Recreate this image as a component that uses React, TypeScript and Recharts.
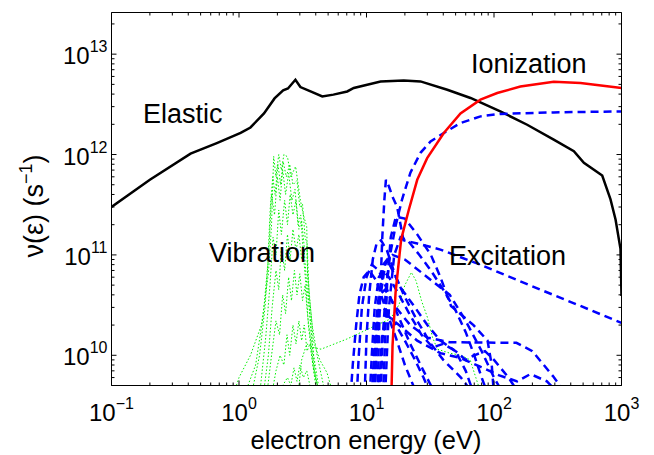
import React from 'react';
import { LineChart, Line, XAxis, YAxis } from 'recharts';

type Pt = [number, number];

// ---------- axis ticks ----------
const xTicks = [0.1, 0.2, 0.3, 0.4, 0.5, 0.6, 0.7, 0.8, 0.9, 1, 2, 3, 4, 5, 6, 7, 8, 9, 10, 20, 30, 40, 50, 60, 70, 80, 90, 100, 200, 300, 400, 500, 600, 700, 800, 900, 1000];
const xMajor = [0.1, 1, 10, 100, 1000];
const xMajorLabels = ['\u22121', '0', '1', '2', '3'];
const yTicks = [5e9, 6e9, 7e9, 8e9, 9e9, 1e10, 2e10, 3e10, 4e10, 5e10, 6e10, 7e10, 8e10, 9e10, 1e11, 2e11, 3e11, 4e11, 5e11, 6e11, 7e11, 8e11, 9e11, 1e12, 2e12, 3e12, 4e12, 5e12, 6e12, 7e12, 8e12, 9e12, 1e13, 2e13];
const yMajor = [1e10, 1e11, 1e12, 1e13];
const yMajorLabels = ['10', '11', '12', '13'];
const xDomain = [0.1, 1000];
const yDomain = [5e9, 2.6e13];

// ---------- series (energy eV, collision frequency s^-1) ----------
const elastic: Pt[] = [[0.1, 3.0e11], [0.2, 5.6e11], [0.417, 1.02e12], [0.67, 1.3e12], [1.03, 1.64e12], [1.23, 1.86e12], [1.57, 2.57e12], [1.9, 3.62e12], [2.22, 4.35e12], [2.42, 4.55e12], [2.77, 5.56e12], [3.03, 4.7e12], [3.64, 4.25e12], [4.5, 3.79e12], [5.5, 3.95e12], [7.06, 4.25e12], [7.95, 4.6e12], [12.9, 5.35e12], [19.6, 5.47e12], [26.5, 5.35e12], [43, 4.42e12], [65.4, 3.66e12], [112, 2.69e12], [182, 1.98e12], [294, 1.41e12], [423, 1.08e12], [507, 8.26e11], [706, 6.17e11], [820, 3.57e11], [898, 2.25e11], [982, 1.15e11], [1000, 3.9e10]];

const ionization: Pt[] = [[15.6, 3e9], [16.0, 1.24e10], [16.9, 4.2e10], [18.7, 1.43e11], [21.5, 2.83e11], [25, 5.6e11], [29.9, 9.2e11], [40.4, 1.64e12], [54.6, 2.57e12], [78.3, 3.52e12], [106, 4.1e12], [161, 4.76e12], [294, 5.3e12], [477, 5.15e12], [1000, 4.6e12]];

const excA: Pt[] = [[12.8, 3e9], [13.4, 1.5e10], [14.2, 4.5e10], [15.3, 1e11], [16.9, 1.94e11], [19, 3.56e11], [22.1, 6.6e11], [26.5, 1.04e12], [31.8, 1.35e12], [40.4, 1.64e12], [54.6, 2.06e12], [78.4, 2.4e12], [112, 2.54e12], [294, 2.63e12], [1000, 2.69e12]];
const excB: Pt[] = [[12.2, 4e9], [12.7, 3e10], [13.3, 1.5e11], [13.8, 3.5e11], [14.2, 5.6e11], [15, 4.8e11], [16, 3.8e11], [17.4, 3.0e11], [18.5, 2.0e11], [19.5, 1.4e11], [25, 1.3e11], [38, 1.13e11], [78, 8e10], [232, 4.5e10], [477, 3.1e10], [1000, 2.1e10]];
const excC: Pt[] = [[13.5, 4e9], [14.5, 5e10], [15.5, 1.5e11], [17, 2.4e11], [20, 2.3e11], [25, 1.6e11], [32, 1e11], [38, 6e10], [46, 3.1e10], [69, 2e10], [89, 1.4e10], [96, 8e9], [100, 4e9]];
const excD: Pt[] = [[11, 4e9], [11.8, 2e10], [12.5, 4e10], [14, 4.5e10], [17, 3e10], [22, 2e10], [30, 1.5e10], [45, 1.35e10], [80, 1.34e10], [150, 1.33e10], [200, 1.1e10], [290, 6.2e9], [375, 4e9]];
const excE: Pt[] = [[12.5, 4e9], [13.2, 1.5e10], [14.5, 2.5e10], [18, 2e10], [25, 1.4e10], [38, 1.05e10], [54.6, 9.4e9], [78, 7.7e9], [110, 6.3e9], [152, 5.5e9], [193, 6.5e9], [260, 5.5e9], [332, 4e9]];
const excF: Pt[] = [[11.5, 4e9], [12.5, 3e10], [14, 8e10], [16, 1e11], [20, 9e10], [30, 6e10], [45, 4e10], [60, 2.2e10], [80, 1.1e10], [100, 6e9], [120, 4e9]];
const excG: Pt[] = [[7.4, 3e9], [7.8, 8e9], [8.3, 2e10], [8.8, 4e10], [9.5, 6e10], [10.5, 7e10], [12, 5.5e10], [14, 3e10], [17, 1.5e10], [20, 8e9], [25, 4e9]];
const excH: Pt[] = [[8.3, 3e9], [8.7, 1e10], [9.2, 3e10], [10, 6e10], [11, 8e10], [12.5, 7e10], [14, 5e10], [17, 2.8e10], [22, 1.3e10], [28, 7e9], [35, 4e9]];
const excI: Pt[] = [[9.6, 3e9], [10, 1.5e10], [10.5, 4e10], [11.2, 9e10], [12, 1.3e11], [13, 1.4e11], [14.5, 1.1e11], [17, 6e10], [20, 3.8e10], [25, 2.2e10], [32, 1.3e10], [40, 9e9], [55, 6e9], [70, 4e9]];
const excJ: Pt[] = [[10.5, 3e9], [11, 1e10], [11.6, 3e10], [12.5, 6e10], [13.5, 7e10], [15, 6e10], [18, 4e10], [22, 2.5e10], [27, 1.6e10], [33, 1.2e10], [40, 1.3e10], [50, 1.1e10], [60, 7e9], [70, 4e9]];
const excK: Pt[] = [[11.5, 3e9], [12, 1.2e10], [12.7, 4e10], [13.5, 8e10], [14.5, 9e10], [16, 7e10], [19, 4.5e10], [24, 3e10], [30, 2e10], [38, 1.4e10], [50, 1.1e10], [60, 9e9], [70, 1e10], [85, 1.1e10], [100, 9e9], [130, 6e9], [160, 4e9]];
const excL: Pt[] = [[11, 3e9], [11.6, 1e10], [12.3, 2.5e10], [13, 3e10], [14.5, 2.8e10], [17, 2e10], [20, 1.4e10], [24, 9e9], [28, 6e9], [32, 4e9]];
const excM: Pt[] = [[14, 4e9], [15, 3e10], [16.5, 1e11], [18.5, 1.5e11], [21, 1.4e11], [26, 1e11], [32, 7e10], [40, 4.5e10], [50, 2.8e10], [60, 1.7e10], [70, 1e10], [80, 6e9], [90, 4e9]];

const vib1: Pt[] = [[0.9, 4e9], [1.0, 6e9], [1.23, 1e10], [1.5, 2e10], [1.7, 6.5e10], [1.8, 2e11], [1.87, 9.6e11], [1.95, 6e11], [2.05, 1e12], [2.15, 7e11], [2.25, 1e12], [2.4, 9.5e11], [2.55, 6e11], [2.78, 7.6e11], [3.03, 3.5e11], [3.2, 2.5e11], [3.4, 1.9e11], [3.45, 6.6e10], [3.83, 1.4e10], [4.3, 9e9], [4.9, 6.7e9], [5.5, 4e9]];
const vib2: Pt[] = [[1.25, 4e9], [1.45, 1e10], [1.6, 3e10], [1.72, 1.2e11], [1.8, 4e11], [1.9, 2.5e11], [2.0, 6e11], [2.1, 3.5e11], [2.2, 7e11], [2.32, 4e11], [2.45, 6.5e11], [2.6, 3.5e11], [2.75, 4.5e11], [2.9, 2e11], [3.05, 2.5e11], [3.2, 1e11], [3.35, 5e10], [3.5, 2e10], [3.8, 8e9], [4.2, 4e9]];
const vib3: Pt[] = [[1.45, 4e9], [1.62, 1.5e10], [1.75, 5e10], [1.85, 1.5e11], [1.95, 1e11], [2.05, 2.8e11], [2.15, 1.6e11], [2.28, 3.5e11], [2.4, 2e11], [2.52, 4e11], [2.65, 2.5e11], [2.8, 3.5e11], [2.95, 1.8e11], [3.1, 2.2e11], [3.25, 1.2e11], [3.4, 1.2e11], [3.5, 4e10], [3.7, 1.5e10], [4.0, 6e9], [4.4, 3.5e9]];
const vib4: Pt[] = [[1.55, 4e9], [1.7, 1e10], [1.82, 3e10], [1.95, 7e10], [2.05, 4.5e10], [2.15, 1.2e11], [2.28, 7e10], [2.4, 1.6e11], [2.52, 9e10], [2.65, 1.8e11], [2.8, 1.1e11], [2.95, 1.6e11], [3.1, 9e10], [3.25, 1.1e11], [3.4, 5e10], [3.6, 2.5e10], [3.85, 1e10], [4.2, 5e9]];
const vib5: Pt[] = [[1.65, 4e9], [1.8, 1e10], [1.95, 2.2e10], [2.08, 1.6e10], [2.2, 4e10], [2.32, 2.6e10], [2.45, 6e10], [2.58, 3.5e10], [2.72, 7e10], [2.85, 4e10], [3.0, 6.5e10], [3.15, 3.5e10], [3.3, 5e10], [3.45, 2.5e10], [3.65, 1.4e10], [3.9, 7e9], [4.3, 4e9]];
const vib6: Pt[] = [[1.8, 4e9], [1.95, 7e9], [2.1, 1e10], [2.25, 8e9], [2.38, 1.6e10], [2.5, 1e10], [2.65, 2e10], [2.8, 1.3e10], [2.95, 2.2e10], [3.1, 1.4e10], [3.25, 2e10], [3.42, 1.1e10], [3.6, 1.3e10], [3.85, 7e9], [4.1, 4e9]];
const vib7: Pt[] = [[2.0, 4e9], [2.2, 5e9], [2.4, 6e9], [2.55, 5e9], [2.7, 7.5e9], [2.85, 5.5e9], [3.0, 8e9], [3.2, 6e9], [3.4, 7e9], [3.6, 5e9], [3.9, 4e9]];
const vib8: Pt[] = [[2.9, 4e9], [3.1, 9e9], [3.4, 1.3e10], [3.8, 1.2e10], [4.4, 1.15e10], [5.2, 1.25e10], [7, 1.45e10], [9.5, 1.74e10], [12, 2e10], [15.4, 2.3e10], [18, 3.2e10], [20, 5e10], [22.5, 6.7e10], [24.5, 5.5e10], [27, 3.5e10], [30, 2.4e10], [33, 1.5e10], [36, 1.15e10], [45, 1.05e10], [55, 1e10], [65, 9e9], [72, 6e9], [80, 4e9]];
const vib9: Pt[] = [[1.1, 4e9], [1.35, 8e9], [1.55, 2.5e10], [1.68, 8e10], [1.76, 3e11], [1.84, 6e11], [1.92, 4e11], [2.02, 8e11], [2.12, 5e11], [2.22, 8.5e11], [2.35, 6e11], [2.5, 8e11], [2.65, 5e11], [2.85, 5.5e11], [3.0, 3e11], [3.15, 3.2e11], [3.3, 1.5e11], [3.42, 1.3e11], [3.55, 4e10], [3.75, 2e10], [4.1, 1e10], [4.6, 5e9], [5.0, 4e9]];

const vibrationCurves = [vib1, vib2, vib3, vib4, vib5, vib6, vib7, vib8, vib9];
const excitationCurves = [excA, excB, excC, excD, excE, excF, excG, excH, excI, excJ, excK, excL, excM];

const rows = (c: Pt[]) => c.map(([e, v]) => ({ e, v }));

const FONT = '"Liberation Sans", Arial, Helvetica, sans-serif';
const W = 654;
const H = 455;

const isMajor = (list: number[], v: number) => list.findIndex((m) => Math.abs(m - v) / m < 1e-6);

function XTickMark(props: any) {
  const { x, y, payload, side } = props;
  const idx = isMajor(xMajor, payload.value);
  const len = idx >= 0 ? 5 : 3;
  const dir = side === 'top' ? 1 : -1;
  return (
    <g>
      <line x1={x} y1={y} x2={x} y2={y + dir * len} stroke="#000" strokeWidth={1} />
      {side !== 'top' && idx >= 0 && (
        <text x={x} y={y + 35} textAnchor="middle" fontFamily={FONT} fontSize={24} fill="#000">
          <tspan>10</tspan>
          <tspan dy={-12} fontSize={16}>{xMajorLabels[idx]}</tspan>
        </text>
      )}
    </g>
  );
}

function YTickMark(props: any) {
  const { x, y, payload, side } = props;
  const idx = isMajor(yMajor, payload.value);
  const len = idx >= 0 ? 5 : 3;
  const dir = side === 'right' ? -1 : 1;
  return (
    <g>
      <line x1={x} y1={y} x2={x + dir * len} y2={y} stroke="#000" strokeWidth={1} />
      {side !== 'right' && idx >= 0 && (
        <text x={x - 4} y={y + 10} textAnchor="end" fontFamily={FONT} fontSize={24} fill="#000">
          <tspan>10</tspan>
          <tspan dy={-12} fontSize={16}>{yMajorLabels[idx]}</tspan>
        </text>
      )}
    </g>
  );
}

export default function App() {
  return (
    <div style={{ position: 'absolute', left: 0, top: 0, width: W, height: H, background: '#fff' }}>
      <LineChart width={W} height={H} margin={{ top: 11.5, right: 31.5, bottom: 9.5, left: 0 }}>
        <XAxis
          dataKey="e"
          type="number"
          scale="log"
          domain={xDomain}
          allowDataOverflow
          ticks={xTicks}
          interval={0}
          tickSize={0}
          tickMargin={0}
          tickLine={false}
          height={60}
          axisLine={{ stroke: '#000', strokeWidth: 1 }}
          tick={(p: any) => <XTickMark {...p} side="bottom" />}
        />
        <XAxis
          xAxisId="top"
          orientation="top"
          dataKey="e"
          type="number"
          scale="log"
          domain={xDomain}
          allowDataOverflow
          ticks={xTicks}
          interval={0}
          tickSize={0}
          tickMargin={0}
          tickLine={false}
          height={1}
          axisLine={{ stroke: '#000', strokeWidth: 1 }}
          tick={(p: any) => <XTickMark {...p} side="top" />}
        />
        <YAxis
          type="number"
          scale="log"
          domain={yDomain}
          allowDataOverflow
          ticks={yTicks}
          interval={0}
          tickSize={0}
          tickMargin={0}
          tickLine={false}
          width={111.5}
          axisLine={{ stroke: '#000', strokeWidth: 1 }}
          tick={(p: any) => <YTickMark {...p} side="left" />}
        />
        <YAxis
          yAxisId="right"
          orientation="right"
          type="number"
          scale="log"
          domain={yDomain}
          allowDataOverflow
          ticks={yTicks}
          interval={0}
          tickSize={0}
          tickMargin={0}
          tickLine={false}
          width={1}
          axisLine={{ stroke: '#000', strokeWidth: 1 }}
          tick={(p: any) => <YTickMark {...p} side="right" />}
        />
        <Line data={rows(elastic)} dataKey="v" stroke="#000" strokeWidth={2.5} dot={false} activeDot={false} isAnimationActive={false} type="linear" />
        {vibrationCurves.map((c, i) => (
          <Line key={'vib' + i} data={rows(c)} dataKey="v" stroke="#00ee00" strokeWidth={1} strokeDasharray="1.5 2" dot={false} activeDot={false} isAnimationActive={false} type="linear" />
        ))}
        {excitationCurves.map((c, i) => (
          <Line key={'exc' + i} data={rows(c)} dataKey="v" stroke="#0000ff" strokeWidth={2.5} strokeDasharray="8 5" dot={false} activeDot={false} isAnimationActive={false} type="linear" />
        ))}
        <Line data={rows(ionization)} dataKey="v" stroke="#ff0000" strokeWidth={2.5} dot={false} activeDot={false} isAnimationActive={false} type="linear" />
      </LineChart>
      <svg width={W} height={H} style={{ position: 'absolute', left: 0, top: 0, pointerEvents: 'none' }}>
        <g fontFamily={FONT} fontSize={27} fill="#000">
          <text x={143} y={123}>Elastic</text>
          <text x={471} y={73}>Ionization</text>
          <text x={209} y={262}>Vibration</text>
          <text x={449} y={265}>Excitation</text>
          <text x={366} y={449} fontSize={25.5} textAnchor="middle">electron energy (eV)</text>
          <text x={43} y={206} textAnchor="middle" transform="rotate(-90 43 206)">
            <tspan>{'\u03bd(\u03b5) (s'}</tspan>
            <tspan dy={-11} fontSize={18}>{'\u22121'}</tspan>
            <tspan dy={11}>)</tspan>
          </text>
        </g>
      </svg>
    </div>
  );
}
